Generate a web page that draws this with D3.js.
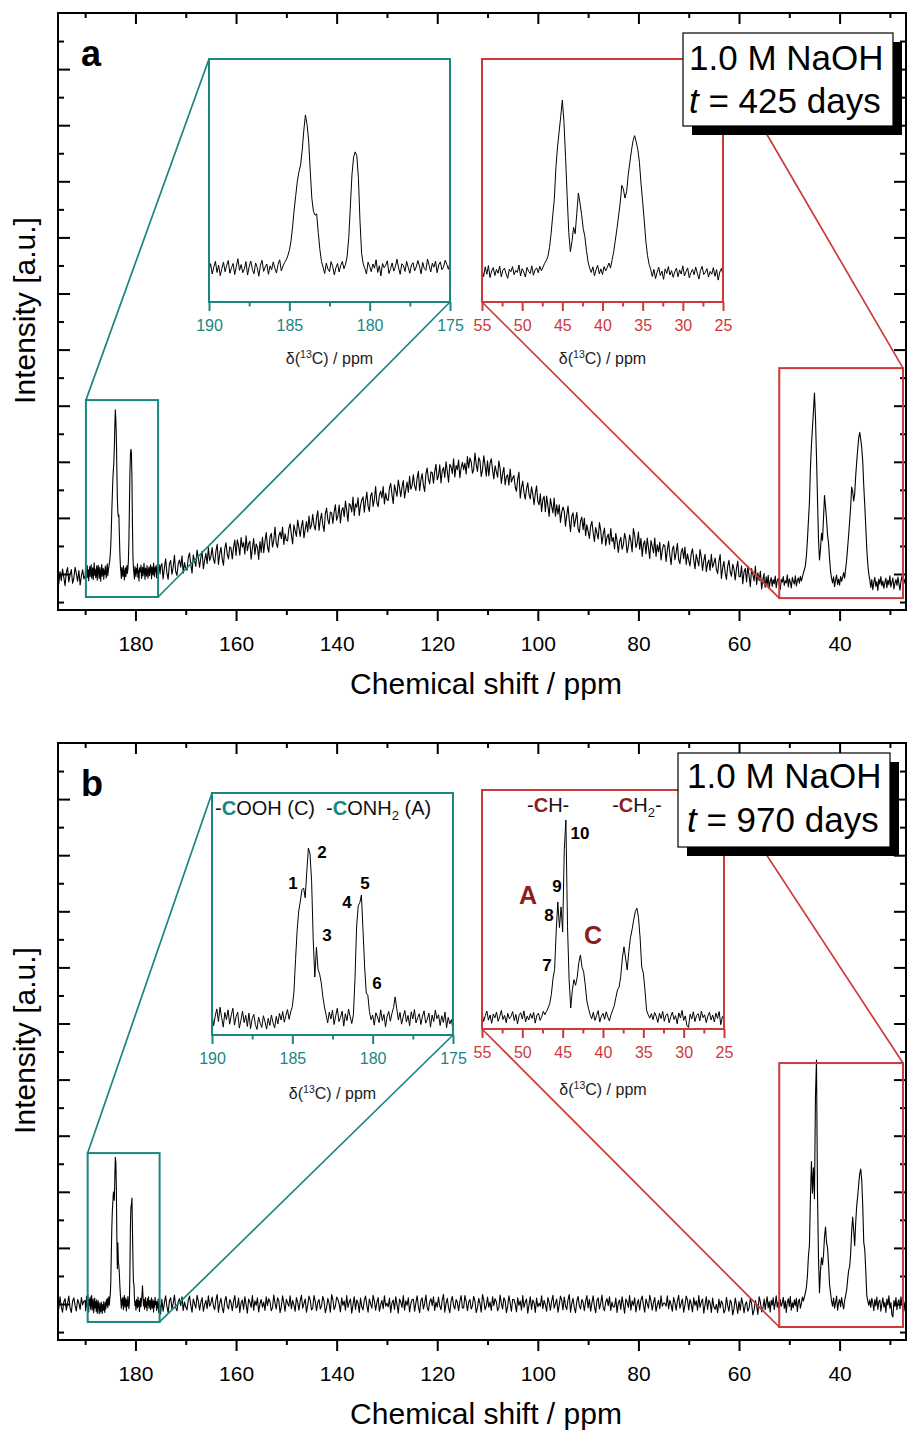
<!DOCTYPE html>
<html>
<head>
<meta charset="utf-8">
<script src="https://cdn.jsdelivr.net/npm/d3@7"></script>
<style>
  body { margin: 0; background: #fff; }
  svg { display: block; }
</style>
</head>
<body>
<svg id="fig" width="907" height="1431"></svg>
<script>
// ---------- axis ticks ----------
const shiftMajor = [180, 160, 140, 120, 100, 80, 60, 40];
const shiftMinor = [190, 170, 150, 130, 110, 90, 70, 50, 30];
const intensityMajor = [0, 20, 40, 60, 80, 100, 120, 140, 160, 180];
const intensityMinor = [-10, 10, 30, 50, 70, 90, 110, 130, 150, 170, 190];
const carbonylTicks = [190, 185, 180, 175];
const carbonylMinor = [187.5, 182.5, 177.5];
const aliphaticTicks = [55, 50, 45, 40, 35, 30, 25];
const aliphaticMinor = [52.5, 47.5, 42.5, 37.5, 32.5, 27.5];

// ---------- sampled ppm ranges (first point, last point) ----------
const edgeRange = [195.5, 190.25];
const carbonylRange = [190, 175];
const middleRange = [174.75, 55.0];
const aliphaticRange = [55, 25];

// ---------- spectrum a : 425 days ----------
const edgeA = [-0.2,-3.6,0.9,-2.4,1.8,-1.1,-4.2,0.5,2.3,-2.8,-0.4,1.6,-3.3,-1.5,2.4,0.1,-2.6,1.2,-3.9,-0.7,1.5,-1.8];
const carbonylA = [
  -0.5,2.1,-1.8,0.9,3.0,-1.2,1.6,-2.4,0.3,2.7,
  -0.9,1.4,3.3,-1.5,0.6,2.2,-2.0,1.1,4.0,-0.4,
  1.8,-1.3,0.2,2.9,-2.2,1.0,3.1,0.0,-1.7,2.4,
  0.7,-2.6,1.5,3.4,-0.8,0.9,2.0,-1.9,1.3,-0.2,
  2.8,0.4,-1.4,1.9,3.6,-0.6,1.2,2.5,
  3.5,5.0,7.2,10.5,16.0,22.5,28.0,33.5,37.0,39.5,45.0,52.5,58.5,55.0,49.0,37.5,27.0,22.0,20.5,21.0,14.0,7.5,3.0,
  0.8,-1.6,2.3,0.1,-0.9,2.9,1.0,-2.1,0.6,2.2,-1.0,1.4,3.0,0.2,1.9,
  5.0,12.0,24.0,36.0,42.5,44.5,43.0,34.5,18.0,6.0,2.0,
  0.3,-1.8,2.7,1.1,-0.9,2.0,0.4,3.6,-1.2,1.3,
  -2.5,2.2,0.6,1.5,3.2,-1.6,0.2,2.4,-0.7,1.0,
  3.8,0.5,-1.9,2.1,1.4,-0.8,3.0,0.7,-1.5,1.6,
  2.5,-0.6,0.9,3.3,1.2,-1.7,2.6,0.3,-0.4,3.9,
  1.5,-1.0,2.3,0.8,3.1,-1.3,1.7,2.8,-0.2,0.9,
  3.4,1.9,0.0,2.6
];
const middleA = [
  3.7,-1.8,2.2,5.4,0.4,-1.9,3.6,4.8,-0.1,2.4,6.7,0.9,-0.5,3.6,5.0,2.4,6.5,0.3,4.1,1.8,
  1.4,5.8,7.5,3.5,0.3,6.8,4.7,2.7,8.5,5.8,2.4,5.9,8.1,1.9,4.8,7.4,3.7,9.4,4.8,6.2,
  9.4,5.4,3.8,8.2,10.6,3.4,7.2,9.5,5.4,3.1,9.0,11.1,7.0,5.4,9.7,9.2,5.4,9.5,12.1,6.6,
  12.2,10.2,6.7,13.0,9.6,11.2,7.1,13.6,8.3,10.7,11.7,5.3,9.2,12.6,7.0,10.7,9.5,5.2,11.6,7.7,
  13.1,7.6,11.6,14.8,9.8,7.8,13.3,14.5,9.6,12.1,16.7,10.9,9.5,13.6,15.0,12.6,16.7,10.5,14.3,12.0,
  11.8,16.2,17.9,13.9,10.7,17.5,15.4,13.4,19.2,16.5,13.4,16.9,19.1,12.9,15.8,18.7,15.0,20.7,16.1,17.5,
  21.3,17.3,15.7,20.1,22.5,15.5,19.3,21.6,17.5,15.2,21.4,23.5,19.4,17.8,22.1,21.8,18.0,22.1,24.7,19.2,
  20.7,24.6,18.2,22.5,23.7,20.4,26.0,22.6,18.7,25.1,24.5,22.1,27.4,20.9,25.0,23.8,27.2,20.9,24.4,26.4,
  27.5,22.0,26.0,29.2,24.2,22.3,27.8,29.0,24.1,26.6,31.2,25.4,24.0,28.1,29.5,27.1,31.2,25.0,28.8,26.5,
  26.2,30.6,32.3,28.3,25.1,31.8,29.7,27.7,33.5,30.8,27.6,31.1,33.3,27.1,30.0,32.8,29.1,34.8,30.2,31.6,
  35.4,31.4,29.8,34.2,36.6,29.7,33.5,35.8,31.7,29.4,35.7,37.8,33.7,32.1,36.4,36.2,32.4,36.5,39.1,33.6,
  35.0,38.9,32.5,36.8,38.0,34.4,40.0,36.6,32.7,39.1,38.2,35.8,41.1,34.6,38.7,37.2,40.6,34.3,37.8,39.8,
  37.2,39.5,35.7,41.9,37.8,41.4,40.0,35.9,37.3,43.1,39.1,36.6,41.5,40.3,34.8,37.1,42.1,38.9,34.9,40.4,
  35.0,39.4,41.1,37.1,33.9,38.6,36.5,34.5,40.3,37.6,32.3,35.8,38.0,31.8,34.7,35.4,31.7,37.4,32.8,34.2,
  35.1,31.1,29.5,33.9,36.3,27.0,30.8,33.1,29.0,26.7,30.4,32.5,28.4,26.8,31.1,28.5,24.7,28.8,31.4,25.9,
  24.7,28.6,22.2,26.5,27.7,22.2,27.8,24.4,20.5,26.9,24.2,21.8,27.1,20.6,24.7,21.3,24.7,18.4,21.9,23.9,
  22.5,17.0,21.0,24.2,19.2,15.1,20.6,21.8,16.9,19.4,22.0,16.2,14.8,18.9,20.3,15.8,19.9,13.7,17.5,15.2,
  12.7,17.1,18.8,14.8,11.6,16.6,14.5,12.5,18.3,15.6,10.7,14.2,16.4,10.2,13.1,14.2,10.5,16.2,11.6,13.0,
  8.9,14.4,11.8,7.7,11.5,13.1,8.8,10.4,14.5,12.4,7.6,9.9,14.0,11.7,7.9,16.2,13.8,9.4,11.0,15.0,
  8.8,12.7,6.3,10.6,11.8,7.2,12.8,9.4,5.5,11.9,9.9,7.5,12.8,6.3,10.4,7.9,11.3,5.0,8.5,10.5,
  10.0,4.5,8.5,11.7,6.7,3.3,8.8,10.0,5.1,7.6,10.9,5.1,3.7,7.8,9.2,5.5,9.6,3.4,7.2,4.9,
  2.9,7.3,9.0,5.0,1.8,7.0,4.9,2.9,8.7,6.0,1.3,4.8,7.0,0.8,3.7,5.0,1.3,7.0,2.4,3.8,
  5.7,1.7,0.1,4.5,6.9,-1.6,2.2,4.5,0.4,-1.9,2.8,4.9,0.8,-0.8,3.5,1.7,-2.1,2.0,4.6,-0.9,
  -1.0,2.9,-3.5,0.8,2.0,-2.8,2.8,-0.6,-4.5,1.9,-0.1,-2.5,2.8,-3.7,0.4,-2.4,1.0,-5.3,-1.8,0.2
];
const aliphaticA = [
  -2.1,-4.8,-1.0,-3.9,-0.5,-5.2,-2.6,-1.3,-4.4,-2.0,
  -3.5,-0.7,-4.9,-2.3,-1.5,-3.8,-5.5,-1.9,-2.9,-0.9,
  -4.1,-2.4,-3.2,-0.3,-4.6,-1.7,-3.0,-5.0,-1.2,-2.7,
  -3.6,-0.6,-4.3,-2.2,-1.4,-3.3,-0.8,-2.5,-1.1,0.4,
  1.5,3.0,6.5,12.0,19.0,25.5,38.0,46.0,52.0,58.0,64.5,56.0,42.0,27.0,12.5,5.0,
  9.0,14.5,12.0,20.0,28.0,24.0,19.5,14.0,11.0,5.5,1.0,-1.5,
  -3.2,-1.0,-4.5,-2.1,-0.4,-3.7,-1.8,-4.0,-0.9,-2.6,-1.2,0.5,-1.5,1.8,
  5.0,9.5,14.0,19.0,24.0,31.0,29.5,26.0,28.5,35.0,40.0,44.5,48.5,50.5,48.0,45.0,
  40.0,31.5,24.5,17.0,9.0,3.5,0.0,-2.0,
  -4.8,-2.0,-5.6,-3.1,-1.2,-4.4,-2.7,-5.9,-1.8,-3.6,
  -0.9,-4.2,-2.5,-5.1,-3.0,-1.5,-4.9,-2.2,-3.8,-0.6,
  -4.6,-2.9,-1.4,-5.3,-3.3,-2.0,-4.1,-1.1,-3.5,-5.8,
  -2.4,-0.8,-4.0,-3.2,-1.7,-5.0,-2.8,-3.9,-1.3,-4.7,
  -2.1,-6.2,-3.0,-1.6,-4.3
];

// ---------- spectrum b : 970 days ----------
const edgeB = [1.3,-1.8,2.6,-0.9,-2.9,0.7,1.9,-2.2,0.2,2.8,-1.4,-3.0,1.0,2.2,-0.6,-2.5,1.6,0.4,-1.9,2.3,-0.3,1.1];
const carbonylB = [
  1.2,-2.4,0.6,2.8,-1.1,3.3,0.2,-2.8,1.7,-0.5,
  2.5,-1.9,0.9,3.0,-2.2,0.4,1.8,-3.1,-0.7,2.1,
  -1.4,0.8,-2.6,1.5,-3.3,-0.2,1.1,-2.0,-3.5,0.3,
  -1.6,-2.9,0.7,-1.2,-3.4,-0.1,-2.3,0.9,-1.5,-3.0,
  0.5,-1.8,1.4,-0.6,2.0,-1.3,0.8,2.6,-0.4,1.9,
  3.5,
  8.0,18.0,27.0,33.0,36.0,39.5,40.0,37.0,45.0,52.3,50.5,42.0,24.0,12.6,21.8,15.0,13.5,10.8,6.5,3.4,1.0,
  -1.5,1.8,-0.3,2.4,-2.0,0.7,3.0,-1.1,0.2,2.1,-2.5,1.3,-0.8,2.7,0.4,-1.7,1.0,
  12.0,28.0,34.5,35.5,37.8,27.0,15.7,7.7,7.0,2.0,-0.5,
  0.9,-2.2,1.6,0.3,-1.4,2.5,-0.8,1.1,-2.7,0.5,
  2.0,-1.0,1.4,3.2,6.5,2.8,-0.6,1.7,-1.9,0.4,
  2.3,-1.2,0.8,-2.4,1.9,-0.3,2.6,-1.5,0.1,1.3,
  -2.0,0.6,2.2,-1.6,-0.4,1.5,-2.8,0.9,-1.1,2.4,
  -0.2,1.0,-2.3,0.7,-1.4,1.8,-3.0,0.2,-1.8,-0.5,
  -3.6
];
const middleB = [
  1.7,-2.6,0.4,2.9,-0.9,-3.1,1.2,2.2,-1.8,0.2,3.2,-1.3,-2.4,0.8,1.9,-0.6,2.6,-2.3,0.7,-1.1,
  -2.1,1.4,2.8,-0.4,-2.9,1.8,0.1,-1.5,3.1,1.0,-2.2,0.6,2.3,-2.6,-0.3,1.3,-1.7,2.9,-0.8,0.3,
  2.5,-0.7,-2.0,1.5,3.4,-2.9,0.2,2.0,-1.3,-3.1,1.0,2.7,-0.6,-1.8,1.6,0.6,-2.4,0.9,3.0,-1.4,
  -1.0,2.1,-3.0,0.4,1.4,-1.9,2.6,-0.2,-3.3,1.8,0.7,-1.2,3.0,-2.2,1.1,-0.5,2.2,-2.8,0.0,1.6,
  -1.1,0.7,-2.3,2.6,-0.6,1.9,0.8,-2.4,-1.3,3.2,0.2,-1.8,2.2,1.2,-3.1,-0.9,2.9,0.4,-2.6,1.7,
  0.3,-0.8,2.9,-1.7,1.3,-0.3,-2.6,2.3,0.6,-2.2,1.0,3.1,-1.5,0.1,1.8,-2.9,-0.4,2.8,1.4,-2.1,
  -1.4,3.0,0.9,-2.4,0.6,1.6,-1.8,-0.6,2.7,1.0,-3.1,-1.3,2.0,0.2,-2.9,3.4,1.5,-2.0,-0.7,2.5,
  1.6,0.0,-2.8,2.2,-0.5,1.1,-2.2,3.0,-1.2,0.7,1.8,-3.3,-0.2,2.6,-1.9,1.4,0.4,-3.0,2.1,-1.0,
  -2.1,1.4,2.8,-0.4,-2.9,1.8,0.1,-1.5,3.1,1.0,-2.2,0.6,2.3,-2.6,-0.3,1.3,-1.7,2.9,-0.8,0.3,
  -1.0,2.1,-3.0,0.4,1.4,-1.9,2.6,-0.2,-3.3,1.8,0.7,-1.2,3.0,-2.2,1.1,-0.5,2.2,-2.8,0.0,1.6,
  1.7,-2.6,0.4,2.9,-0.9,-3.1,1.2,2.2,-1.8,0.2,3.2,-1.3,-2.4,0.8,1.9,-0.6,2.6,-2.3,0.7,-1.1,
  2.5,-0.7,-2.0,1.5,3.4,-2.9,0.2,2.0,-1.3,-3.1,1.0,2.7,-0.6,-1.8,1.6,0.6,-2.4,0.9,3.0,-1.4,
  -1.4,3.0,0.9,-2.4,0.6,1.6,-1.8,-0.6,2.7,1.0,-3.1,-1.3,2.0,0.2,-2.9,3.4,1.5,-2.0,-0.7,2.5,
  -1.1,0.7,-2.3,2.6,-0.6,1.9,0.8,-2.4,-1.3,3.2,0.2,-1.8,2.2,1.2,-3.1,-0.9,2.9,0.4,-2.6,1.7,
  1.6,0.0,-2.8,2.2,-0.5,1.1,-2.2,3.0,-1.2,0.7,1.8,-3.3,-0.2,2.6,-1.9,1.4,0.4,-3.0,2.1,-1.0,
  0.3,-0.8,2.9,-1.7,1.3,-0.3,-2.6,2.3,0.6,-2.2,1.0,3.1,-1.5,0.1,1.8,-2.9,-0.4,2.8,1.4,-2.1,
  2.5,-0.7,-2.0,1.5,3.4,-2.9,0.2,2.0,-1.3,-3.1,1.0,2.7,-0.6,-1.8,1.6,0.6,-2.4,0.9,3.0,-1.4,
  1.7,-2.6,0.4,2.9,-0.9,-3.1,1.2,2.2,-1.8,0.2,3.2,-1.3,-2.4,0.8,1.9,-0.6,2.6,-2.3,0.7,-1.1,
  -1.0,2.1,-3.0,0.4,1.4,-1.9,2.6,-0.2,-3.3,1.8,0.7,-1.2,3.0,-2.2,1.1,-0.5,2.2,-2.8,0.0,1.6,
  -2.1,1.4,2.8,-0.4,-2.9,1.8,0.1,-1.5,3.1,1.0,-2.2,0.6,2.3,-2.6,-0.3,1.3,-1.7,2.9,-0.8,0.3,
  0.3,-0.8,2.9,-1.7,1.3,-0.3,-2.6,2.3,0.6,-2.2,1.0,3.1,-1.5,0.1,1.8,-2.9,-0.4,2.8,1.4,-2.1,
  1.6,0.0,-2.8,2.2,-0.5,1.1,-2.2,3.0,-1.2,0.7,1.8,-3.3,-0.2,2.6,-1.9,1.4,0.4,-3.0,2.1,-1.0,
  -1.9,-0.1,-3.1,1.8,-1.4,1.1,0.0,-3.2,-2.1,2.4,-0.6,-2.6,1.4,0.4,-3.9,-1.7,2.1,-0.4,-3.4,0.9,
  -2.2,2.2,0.1,-3.2,-0.2,0.8,-2.6,-1.4,1.9,0.2,-3.9,-2.1,1.2,-0.6,-3.7,2.6,0.7,-2.8,-1.5,1.7
];
const aliphaticB = [
  1.8,-2.0,0.5,2.6,-1.4,0.9,-2.8,1.3,-0.4,2.2,
  -1.9,0.2,2.9,-1.1,0.7,-2.5,1.6,-0.8,0.3,2.4,
  -1.6,1.1,-3.0,0.6,1.9,-0.9,2.7,-2.2,0.4,-1.3,
  1.5,-0.6,2.0,-2.7,0.8,1.7,-1.5,0.1,2.5,1.0,
  2.5,4.0,6.0,10.0,17.0,21.0,38.0,50.8,39.5,48.6,37.5,74.0,87.0,40.0,16.5,4.0,
  12.0,16.5,14.0,17.5,24.0,27.4,22.0,20.0,14.2,7.0,3.9,1.0,
  -0.8,2.1,-1.5,0.6,2.8,-2.2,0.3,1.6,-1.0,2.3,0.0,-1.8,1.2,3.0,
  5.0,8.7,12.0,13.3,18.0,26.0,31.0,26.0,20.8,29.0,35.0,38.5,42.8,46.5,48.1,44.0,
  35.0,22.0,19.4,12.0,3.1,1.0,-0.5,1.5,
  -1.2,2.0,0.3,-2.4,1.6,-0.7,2.5,-1.9,0.8,1.4,
  -2.6,0.1,2.2,-1.1,0.6,-3.0,1.8,-0.4,2.9,-1.5,
  0.5,-3.8,-4.6,1.2,-0.9,2.3,-2.0,0.7,1.5,-1.7,
  2.6,-0.3,1.0,-2.5,0.4,2.1,-1.3,0.9,-2.2,1.7,
  -0.6,2.4,-3.4,0.2,-1.0
];

// ---------- texts ----------
const panelLetters = ["a", "b"];
const solution = "1.0 M NaOH";
const agingDays = ["425", "970"];
const xTitle = "Chemical shift / ppm";
const yTitle = "Intensity [a.u.]";
// peak numbering in the 970-day spectrum: [label, ppm, intensity]
const carbonylPeakLabels = [["1",184.96,41.5],["2",183.16,51.1],["3",182.84,25.5],["4",181.6,35.7],["5",180.48,41.5],["6",179.73,10.8]];
const aliphaticPeakLabels = [["10",42.86,81.3],["9",45.71,57.9],["8",46.7,45.1],["7",46.95,23.0]];
const siteLabels = [["A",49.3,53.9],["C",41.25,36.2]];
const groupHeaders = [["CH", "", 46.8], ["CH", "2", 35.8]];

// ---------- drawing ----------
const FONT = '"Liberation Sans", Arial, Helvetica, sans-serif';
const TEAL = "#1b8582", RED = "#cc3a3a", DARK_RED = "#8e1d1d";
const svg = d3.select("#fig");

const panels = [
  { top: 13, bottom: 610, letter: panelLetters[0], days: agingDays[0],
    data: { edge: edgeA, carbonyl: carbonylA, middle: middleA, aliphatic: aliphaticA },
    legend: { x: 683, y: 33, w: 210, h: 93, tx: 689, b1: 70, b2: 113 },
    carbonylBox: { ppm: [189.85, 175.5], v: [-8.2, 62] },
    aliphaticBox: { ppm: [52, 27.4], v: [-8.6, 73.4] },
    carbonylInset: { x: [209, 450], y: [59, 302], v: [-12.4, 79.7], titleBase: 364 },
    aliphaticInset: { x: [482, 723], y: [59, 302], v: [-14.8, 80.6], titleBase: 364 },
    annotate: false },
  { top: 743, bottom: 1340, letter: panelLetters[1], days: agingDays[1],
    data: { edge: edgeB, carbonyl: carbonylB, middle: middleB, aliphatic: aliphaticB },
    legend: { x: 678, y: 753, w: 212, h: 94, tx: 687, b1: 788, b2: 832 },
    carbonylBox: { ppm: [189.5, 175.2], v: [-6.4, 53.8] },
    aliphaticBox: { ppm: [52, 27.4], v: [-8.2, 85.9] },
    carbonylInset: { x: [212, 453], y: [793, 1035], v: [-5.23, 69.23], titleBase: 1099 },
    aliphaticInset: { x: [482, 724], y: [790, 1029], v: [-5.3, 100.27], titleBase: 1095 },
    annotate: true }
];

function toPoints(range, vals) {
  const n = vals.length;
  return vals.map((v, i) => [range[0] + (range[1] - range[0]) * i / (n - 1), v]);
}

function styleAxis(sel, color, width, size) {
  sel.select(".domain").remove();
  sel.attr("font-family", FONT).attr("font-size", size || 10);
  sel.selectAll(".tick line").attr("stroke", color).attr("stroke-width", width);
  sel.selectAll(".tick text").attr("fill", color);
}

function drawInset(g, cfg, domain, points, color, major, minor, idx, name) {
  const ix = d3.scaleLinear().domain(domain).range(cfg.x);
  const iy = d3.scaleLinear().domain(cfg.v).range([cfg.y[1], cfg.y[0]]);
  g.append("rect").attr("x", cfg.x[0]).attr("y", cfg.y[0])
    .attr("width", cfg.x[1] - cfg.x[0]).attr("height", cfg.y[1] - cfg.y[0])
    .attr("fill", "#fff").attr("stroke", "none");
  const cid = `clip-${name}-${idx}`;
  svg.append("clipPath").attr("id", cid).append("rect")
    .attr("x", cfg.x[0]).attr("y", cfg.y[0])
    .attr("width", cfg.x[1] - cfg.x[0]).attr("height", cfg.y[1] - cfg.y[0]);
  g.append("path").datum(points).attr("clip-path", `url(#${cid})`)
    .attr("fill", "none").attr("stroke", "#000").attr("stroke-width", 1)
    .attr("stroke-linejoin", "round")
    .attr("d", d3.line().x(d => ix(d[0])).y(d => iy(d[1])));
  g.append("g").attr("transform", `translate(0,${cfg.y[1]})`)
    .call(d3.axisBottom(ix).tickValues(minor).tickSize(4.5).tickFormat(""))
    .call(s => styleAxis(s, color, 2));
  g.append("g").attr("transform", `translate(0,${cfg.y[1]})`)
    .call(d3.axisBottom(ix).tickValues(major).tickSize(9).tickPadding(9).tickFormat(d3.format("d")))
    .call(s => styleAxis(s, color, 2, 16));
  g.append("rect").attr("x", cfg.x[0]).attr("y", cfg.y[0])
    .attr("width", cfg.x[1] - cfg.x[0]).attr("height", cfg.y[1] - cfg.y[0])
    .attr("fill", "none").attr("stroke", color).attr("stroke-width", 2);
  const t = g.append("text").attr("x", (cfg.x[0] + cfg.x[1]) / 2).attr("y", cfg.titleBase)
    .attr("text-anchor", "middle").attr("font-family", FONT).attr("font-size", 16).attr("fill", "#222");
  t.append("tspan").text("\u03B4(");
  t.append("tspan").attr("font-size", 10.5).attr("dy", -6).text("13");
  t.append("tspan").attr("dy", 6).text("C) / ppm");
  return { ix, iy };
}

panels.forEach((p, idx) => {
  const g = svg.append("g");
  const x = d3.scaleLinear().domain([195.4, 26.8]).range([58, 906]);
  const y = d3.scaleLinear().domain([-12.834, 200]).range([p.bottom, p.top]);
  const cid = "clip-main-" + idx;
  svg.append("clipPath").attr("id", cid).append("rect")
    .attr("x", 58).attr("y", p.top).attr("width", 848).attr("height", p.bottom - p.top);

  const carbonyl = toPoints(carbonylRange, p.data.carbonyl);
  const aliphatic = toPoints(aliphaticRange, p.data.aliphatic);
  const full = toPoints(edgeRange, p.data.edge)
    .concat(carbonyl, toPoints(middleRange, p.data.middle), aliphatic);

  // main spectrum
  g.append("path").datum(full).attr("clip-path", `url(#${cid})`)
    .attr("fill", "none").attr("stroke", "#000").attr("stroke-width", 1.1)
    .attr("stroke-linejoin", "round")
    .attr("d", d3.line().x(d => x(d[0])).y(d => y(d[1])));

  // axes: bottom (labelled, outward), top/left/right mirrored with inward ticks
  g.append("g").attr("transform", `translate(0,${p.bottom})`)
    .call(d3.axisBottom(x).tickValues(shiftMinor).tickSize(5).tickFormat(""))
    .call(s => styleAxis(s, "#000", 2));
  g.append("g").attr("transform", `translate(0,${p.bottom})`)
    .call(d3.axisBottom(x).tickValues(shiftMajor).tickSize(11).tickPadding(15).tickFormat(d3.format("d")))
    .call(s => styleAxis(s, "#000", 2, 21));
  g.append("g").attr("transform", `translate(0,${p.top})`)
    .call(d3.axisBottom(x).tickValues(shiftMinor).tickSize(5).tickFormat(""))
    .call(s => styleAxis(s, "#000", 2));
  g.append("g").attr("transform", `translate(0,${p.top})`)
    .call(d3.axisBottom(x).tickValues(shiftMajor).tickSize(11).tickFormat(""))
    .call(s => styleAxis(s, "#000", 2));
  g.append("g").attr("transform", "translate(58,0)")
    .call(d3.axisRight(y).tickValues(intensityMinor).tickSize(6).tickFormat(""))
    .call(s => styleAxis(s, "#000", 2));
  g.append("g").attr("transform", "translate(58,0)")
    .call(d3.axisRight(y).tickValues(intensityMajor).tickSize(12).tickFormat(""))
    .call(s => styleAxis(s, "#000", 2));
  g.append("g").attr("transform", "translate(906,0)")
    .call(d3.axisLeft(y).tickValues(intensityMinor).tickSize(6).tickFormat(""))
    .call(s => styleAxis(s, "#000", 2));
  g.append("g").attr("transform", "translate(906,0)")
    .call(d3.axisLeft(y).tickValues(intensityMajor).tickSize(12).tickFormat(""))
    .call(s => styleAxis(s, "#000", 2));
  g.append("rect").attr("x", 58).attr("y", p.top).attr("width", 848).attr("height", p.bottom - p.top)
    .attr("fill", "none").attr("stroke", "#000").attr("stroke-width", 2);

  // axis titles
  g.append("text").attr("x", 486).attr("y", p.bottom + 84).attr("text-anchor", "middle")
    .attr("font-family", FONT).attr("font-size", 30).text(xTitle);
  g.append("text").attr("transform", `translate(35,${(p.top + p.bottom) / 2 - 1}) rotate(-90)`)
    .attr("text-anchor", "middle").attr("font-family", FONT).attr("font-size", 30).text(yTitle);

  // zoom boxes on the main spectrum
  const cb = { x0: x(p.carbonylBox.ppm[0]), x1: x(p.carbonylBox.ppm[1]), yt: y(p.carbonylBox.v[1]), yb: y(p.carbonylBox.v[0]) };
  const ab = { x0: x(p.aliphaticBox.ppm[0]), x1: x(p.aliphaticBox.ppm[1]), yt: y(p.aliphaticBox.v[1]), yb: y(p.aliphaticBox.v[0]) };
  g.append("rect").attr("x", cb.x0).attr("y", cb.yt).attr("width", cb.x1 - cb.x0).attr("height", cb.yb - cb.yt)
    .attr("fill", "none").attr("stroke", TEAL).attr("stroke-width", 2);
  g.append("rect").attr("x", ab.x0).attr("y", ab.yt).attr("width", ab.x1 - ab.x0).attr("height", ab.yb - ab.yt)
    .attr("fill", "none").attr("stroke", RED).attr("stroke-width", 2);

  // connectors from the boxes to the enlarged views
  const ci = p.carbonylInset, ai = p.aliphaticInset;
  const conn = [
    [cb.x0, cb.yt, ci.x[0], ci.y[0], TEAL],
    [cb.x1, cb.yb, ci.x[1], ci.y[1], TEAL],
    [ab.x1, ab.yt, ai.x[1], ai.y[0], RED],
    [ab.x0, ab.yb, ai.x[0], ai.y[1], RED]
  ];
  conn.forEach(c => g.append("line").attr("x1", c[0]).attr("y1", c[1]).attr("x2", c[2]).attr("y2", c[3])
    .attr("stroke", c[4]).attr("stroke-width", 1.7));

  // enlarged views
  const cs = drawInset(g, ci, carbonylRange, carbonyl, TEAL, carbonylTicks, carbonylMinor, idx, "co");
  const as = drawInset(g, ai, aliphaticRange, aliphatic, RED, aliphaticTicks, aliphaticMinor, idx, "al");

  if (p.annotate) {
    // carbonyl group header
    const h = g.append("text").attr("x", ci.x[0] + 3).attr("y", ci.y[0] + 22)
      .attr("font-family", FONT).attr("font-size", 20).attr("fill", "#111").style("white-space", "pre");
    h.append("tspan").text("-");
    h.append("tspan").attr("font-weight", "bold").attr("fill", TEAL).text("C");
    h.append("tspan").text("OOH (C)  -");
    h.append("tspan").attr("font-weight", "bold").attr("fill", TEAL).text("C");
    h.append("tspan").text("ONH");
    h.append("tspan").attr("font-size", 13).attr("dy", 5).text("2");
    h.append("tspan").attr("dy", -5).text(" (A)");

    // aliphatic group headers
    groupHeaders.forEach(([grp, sub, ppm]) => {
      const t = g.append("text").attr("x", as.ix(ppm)).attr("y", ai.y[0] + 22)
        .attr("text-anchor", "middle").attr("font-family", FONT).attr("font-size", 20).attr("fill", "#111");
      t.append("tspan").text("-");
      t.append("tspan").attr("font-weight", "bold").attr("fill", DARK_RED).text(grp[0]);
      t.append("tspan").text(grp.slice(1));
      if (sub) {
        t.append("tspan").attr("font-size", 13).attr("dy", 5).text(sub);
        t.append("tspan").attr("dy", -5).text("-");
      } else {
        t.append("tspan").text("-");
      }
    });

    carbonylPeakLabels.forEach(([lab, ppm, v]) => g.append("text")
      .attr("x", cs.ix(ppm)).attr("y", cs.iy(v)).attr("dy", "0.36em")
      .attr("text-anchor", "middle").attr("font-family", FONT).attr("font-weight", "bold")
      .attr("font-size", 17).text(lab));
    aliphaticPeakLabels.forEach(([lab, ppm, v]) => g.append("text")
      .attr("x", as.ix(ppm)).attr("y", as.iy(v)).attr("dy", "0.36em")
      .attr("text-anchor", "middle").attr("font-family", FONT).attr("font-weight", "bold")
      .attr("font-size", 17).text(lab));
    siteLabels.forEach(([lab, ppm, v]) => g.append("text")
      .attr("x", as.ix(ppm)).attr("y", as.iy(v)).attr("dy", "0.36em")
      .attr("text-anchor", "middle").attr("font-family", FONT).attr("font-weight", "bold")
      .attr("font-size", 25).attr("fill", DARK_RED).text(lab));
  }

  // condition box with drop shadow
  const L = p.legend;
  g.append("rect").attr("x", L.x + 9).attr("y", L.y + 9).attr("width", L.w).attr("height", L.h).attr("fill", "#000");
  g.append("rect").attr("x", L.x).attr("y", L.y).attr("width", L.w).attr("height", L.h)
    .attr("fill", "#fff").attr("stroke", "#000").attr("stroke-width", 1.2);
  g.append("text").attr("x", L.tx).attr("y", L.b1).attr("font-family", FONT).attr("font-size", 35).text(solution);
  const l2 = g.append("text").attr("x", L.tx).attr("y", L.b2).attr("font-family", FONT).attr("font-size", 35);
  l2.append("tspan").attr("font-style", "italic").text("t");
  l2.append("tspan").text(` = ${p.days} days`);

  // panel letter
  g.append("text").attr("x", 81).attr("y", p.top + 53).attr("font-family", FONT)
    .attr("font-weight", "bold").attr("font-size", 36).text(p.letter);
});
</script>
</body>
</html>
